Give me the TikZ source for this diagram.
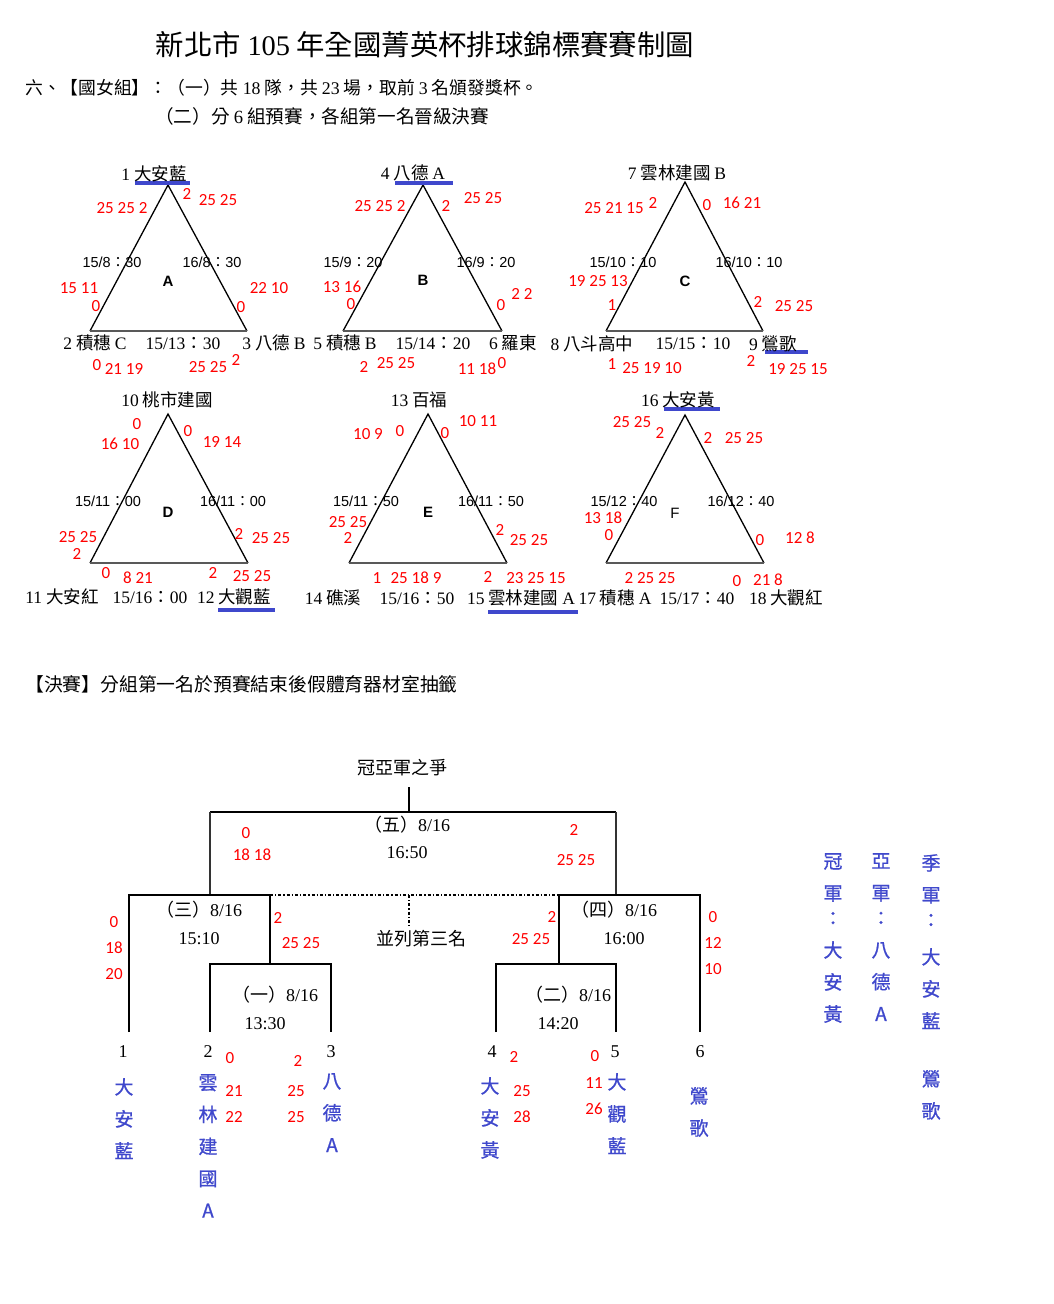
\documentclass[tikz,border=0pt]{standalone}
\usepackage{fontspec}
\setmainfont{Noto Sans CJK TC}
\newfontfamily\latfont{Liberation Serif}
\newfontfamily\arialfont{Liberation Sans}
\newfontfamily\calfont{Carlito}
\newfontfamily\winfont{Noto Sans CJK TC}[FakeBold=0.8]
\newcommand{\lat}[1]{{\latfont #1}}
\newcommand{\fcol}{{\normalfont ：}}
\definecolor{teamblue}{RGB}{63,72,204}
\tikzset{
  team/.style={inner sep=0pt, font=\fontsize{17.5}{17.5}\selectfont},
  slot/.style={inner sep=0pt, font=\arialfont\fontsize{14.5}{14.5}\selectfont},
  grp/.style={inner sep=0pt, font=\arialfont\bfseries\fontsize{15}{15}\selectfont},
  score/.style={inner sep=0pt, text=red, font=\calfont\fontsize{17}{17}\selectfont},
  win/.style={inner sep=0pt, text=teamblue, align=center, font=\winfont\fontsize{19}{32}\selectfont},
  match/.style={inner sep=0pt, font=\fontsize{18}{18}\selectfont},
  side/.style={line width=1.3pt},
  base/.style={line width=2.2pt, draw=black!65},
  champ/.style={line width=3.2pt, draw=teamblue},
  bracket/.style={line width=2.4pt},
  third/.style={line width=1.3pt, dash dot},
}

\begin{document}
\begin{tikzpicture}[x=1pt,y=-1pt]
  \fill[white] (0,0) rectangle (1054,1304);
  \useasboundingbox (0,0) rectangle (1054,1304);

  \node[inner sep=0pt, font=\fontsize{28.4}{28.4}\selectfont] (title) at (425,45)
    {新北市 \lat{105} 年全國菁英杯排球錦標賽賽制圖};
  \node[inner sep=0pt, anchor=west, font=\fontsize{17.8}{17.8}\selectfont] (rule1) at (25,88)
    {六、【國女組】：（一）共 \lat{18} 隊，共 \lat{23} 場，取前 \lat{3} 名頒發獎杯。};
  \node[inner sep=0pt, anchor=west, font=\fontsize{18.6}{18.6}\selectfont] (rule2) at (155,116)
    {（二）分 \lat{6} 組預賽，各組第一名晉級決賽};

  % group A
  \coordinate (A1) at (168,185);
  \coordinate (A2) at (90,331);
  \coordinate (A3) at (247,331);
  \draw[side] (A2) -- (A1) -- (A3);
  \draw[base] (A2) -- (A3);
  \draw[champ] (135,183) -- (190,183);
  \node[team] (tA1) at (154,174) {\lat{1} 大安藍};
  \node[team] (tA2) at (95,343) {\lat{2} 積穗 \lat{C}};
  \node[team] (tA3) at (274,343) {\lat{3} 八德 \lat{B}};
  \node[slot] (mA1) at (112,262) {15/8\fcol30};
  \node[slot] (mA2) at (212,262) {16/8\fcol30};
  \node[team] (mA3) at (183,344) {\lat{15/13}：\lat{30}};
  \node[grp] (gA) at (168,281) {A};
  \node[score] (sA1) at (122,208) {25 25 2};
  \node[score] (sA2) at (187,194) {2};
  \node[score] (sA3) at (218,200) {25 25};
  \node[score] (sA4) at (79,288) {15 11};
  \node[score] (sA5) at (96,306) {0};
  \node[score] (sA6) at (269,288) {22 10};
  \node[score] (sA7) at (241,307) {0};
  \node[score] (sA8) at (97,365) {0};
  \node[score] (sA9) at (124,369) {21 19};
  \node[score] (sA10) at (208,367) {25 25};
  \node[score] (sA11) at (236,360) {2};

  % group B
  \coordinate (B1) at (423,185);
  \coordinate (B2) at (343,331);
  \coordinate (B3) at (502,331);
  \draw[side] (B2) -- (B1) -- (B3);
  \draw[base] (B2) -- (B3);
  \draw[champ] (395,183) -- (453,183);
  \node[team] (tB1) at (413,173) {\lat{4} 八德 \lat{A}};
  \node[team] (tB2) at (345,343) {\lat{5} 積穗 \lat{B}};
  \node[team] (tB3) at (513,343) {\lat{6} 羅東};
  \node[slot] (mB1) at (353,262) {15/9\fcol20};
  \node[slot] (mB2) at (486,262) {16/9\fcol20};
  \node[team] (mB3) at (433,344) {\lat{15/14}：\lat{20}};
  \node[grp] (gB) at (423,280) {B};
  \node[score] (sB1) at (380,206) {25 25 2};
  \node[score] (sB2) at (446,206) {2};
  \node[score] (sB3) at (483,198) {25 25};
  \node[score] (sB4) at (342,287) {13 16};
  \node[score] (sB5) at (351,304) {0};
  \node[score] (sB6) at (501,305) {0};
  \node[score] (sB7) at (522,294) {2 2};
  \node[score] (sB8) at (364,367) {2};
  \node[score] (sB9) at (396,363) {25 25};
  \node[score] (sB10) at (477,369) {11 18};
  \node[score] (sB11) at (502,363) {0};

  % group C
  \coordinate (C1) at (685,182);
  \coordinate (C2) at (606,331);
  \coordinate (C3) at (763,331);
  \draw[side] (C2) -- (C1) -- (C3);
  \draw[base] (C2) -- (C3);
  \draw[champ] (765,352) -- (808,352);
  \node[team] (tC1) at (677,173) {\lat{7} 雲林建國 \lat{B}};
  \node[team] (tC2) at (592,344) {\lat{8} 八斗高中};
  \node[team] (tC3) at (773,344) {\lat{9} 鶯歌};
  \node[slot] (mC1) at (623,262) {15/10\fcol10};
  \node[slot] (mC2) at (749,262) {16/10\fcol10};
  \node[team] (mC3) at (693,344) {\lat{15/15}：\lat{10}};
  \node[grp] (gC) at (685,281) {C};
  \node[score] (sC1) at (614,208) {25 21 15};
  \node[score] (sC2) at (653,203) {2};
  \node[score] (sC3) at (707,205) {0};
  \node[score] (sC4) at (742,203) {16 21};
  \node[score] (sC5) at (598,281) {19 25 13};
  \node[score] (sC6) at (612,305) {1};
  \node[score] (sC7) at (758,302) {2};
  \node[score] (sC8) at (794,306) {25 25};
  \node[score] (sC9) at (612,364) {1};
  \node[score] (sC10) at (652,368) {25 19 10};
  \node[score] (sC11) at (751,361) {2};
  \node[score] (sC12) at (798,369) {19 25 15};

  % group D
  \coordinate (D1) at (168,414);
  \coordinate (D2) at (90,563);
  \coordinate (D3) at (248,563);
  \draw[side] (D2) -- (D1) -- (D3);
  \draw[base] (D2) -- (D3);
  \draw[champ] (218,610) -- (275,610);
  \node[team] (tD1) at (167,400) {\lat{10} 桃市建國};
  \node[team] (tD2) at (62,597) {\lat{11} 大安紅};
  \node[team] (tD3) at (234,597) {\lat{12} 大觀藍};
  \node[slot] (mD1) at (108,501) {15/11\fcol00};
  \node[slot] (mD2) at (233,501) {16/11\fcol00};
  \node[team] (mD3) at (150,598) {\lat{15/16}：\lat{00}};
  \node[grp] (gD) at (168,512) {D};
  \node[score] (sD1) at (137,424) {0};
  \node[score] (sD2) at (120,444) {16 10};
  \node[score] (sD3) at (188,431) {0};
  \node[score] (sD4) at (222,442) {19 14};
  \node[score] (sD5) at (78,537) {25 25};
  \node[score] (sD6) at (77,554) {2};
  \node[score] (sD7) at (239,534) {2};
  \node[score] (sD8) at (271,538) {25 25};
  \node[score] (sD9) at (106,573) {0};
  \node[score] (sD10) at (138,578) {8 21};
  \node[score] (sD11) at (213,573) {2};
  \node[score] (sD12) at (252,576) {25 25};

  % group E
  \coordinate (E1) at (428,414);
  \coordinate (E2) at (349,563);
  \coordinate (E3) at (507,563);
  \draw[side] (E2) -- (E1) -- (E3);
  \draw[base] (E2) -- (E3);
  \draw[champ] (488,612) -- (578,612);
  \node[team] (tE1) at (419,400) {\lat{13} 百福};
  \node[team] (tE2) at (333,598) {\lat{14} 礁溪};
  \node[team] (tE3) at (521,598) {\lat{15} 雲林建國 \lat{A}};
  \node[slot] (mE1) at (366,501) {15/11\fcol50};
  \node[slot] (mE2) at (491,501) {16/11\fcol50};
  \node[team] (mE3) at (417,599) {\lat{15/16}：\lat{50}};
  \node[grp] (gE) at (428,512) {E};
  \node[score] (sE1) at (368,434) {10 9};
  \node[score] (sE2) at (400,431) {0};
  \node[score] (sE3) at (445,433) {0};
  \node[score] (sE4) at (478,421) {10 11};
  \node[score] (sE5) at (348,522) {25 25};
  \node[score] (sE6) at (348,538) {2};
  \node[score] (sE7) at (500,530) {2};
  \node[score] (sE8) at (529,540) {25 25};
  \node[score] (sE9) at (377,578) {1};
  \node[score] (sE10) at (416,578) {25 18 9};
  \node[score] (sE11) at (488,577) {2};
  \node[score] (sE12) at (536,578) {23 25 15};

  % group F
  \coordinate (F1) at (685,415);
  \coordinate (F2) at (606,563);
  \coordinate (F3) at (764,563);
  \draw[side] (F2) -- (F1) -- (F3);
  \draw[base] (F2) -- (F3);
  \draw[champ] (664,409) -- (720,409);
  \node[team] (tF1) at (678,400) {\lat{16} 大安黃};
  \node[team] (tF2) at (615,598) {\lat{17} 積穗 \lat{A}};
  \node[team] (tF3) at (786,598) {\lat{18} 大觀紅};
  \node[slot] (mF1) at (624,501) {15/12\fcol40};
  \node[slot] (mF2) at (741,501) {16/12\fcol40};
  \node[team] (mF3) at (697,599) {\lat{15/17}：\lat{40}};
  \node[grp, font=\arialfont\fontsize{15}{15}\selectfont] (gF) at (675,513) {F};
  \node[score] (sF1) at (632,422) {25 25};
  \node[score] (sF2) at (660,433) {2};
  \node[score] (sF3) at (708,438) {2};
  \node[score] (sF4) at (744,438) {25 25};
  \node[score] (sF5) at (603,518) {13 18};
  \node[score] (sF6) at (609,535) {0};
  \node[score] (sF7) at (760,540) {0};
  \node[score] (sF8) at (800,538) {12 8};
  \node[score] (sF9) at (650,578) {2 25 25};
  \node[score] (sF10) at (737,581) {0};
  \node[score] (sF11) at (768,580) {21 8};

  % finals
  \node[inner sep=0pt, anchor=west, font=\fontsize{18.8}{18.8}\selectfont] (rule3) at (25,684)
    {【決賽】分組第一名於預賽結束後假體育器材室抽籤};
  \node[match] (fin) at (402,768) {冠亞軍之爭};
  \coordinate (f0) at (409,787);
  \coordinate (f1) at (409,812);
  \coordinate (fl) at (210,812);
  \coordinate (fr) at (616,812);
  \coordinate (s3l) at (129,895);
  \coordinate (s3m) at (210,895);
  \coordinate (s3r) at (270,895);
  \coordinate (s4l) at (559,895);
  \coordinate (s4m) at (616,895);
  \coordinate (s4r) at (700,895);
  \coordinate (q3) at (409,895);
  \coordinate (q3e) at (409,925);
  \coordinate (s1l) at (210,964);
  \coordinate (s1m) at (270,964);
  \coordinate (s1r) at (331,964);
  \coordinate (s2l) at (496,964);
  \coordinate (s2m) at (559,964);
  \coordinate (s2r) at (616,964);
  \draw[line width=1.8pt] (f0) -- (f1);
  \draw[bracket] (fl) -- (fr);
  \draw[line width=1.3pt, black!80] (fl) -- (s3m) (fr) -- (s4m);
  \draw[bracket] (129,1032) -- (s3l) -- (s3r) -- (s1m);
  \draw[bracket] (700,1032) -- (s4r) -- (s4l) -- (s2m);
  \draw[bracket] (210,1032) -- (s1l) -- (s1r) -- (331,1032);
  \draw[bracket] (496,1032) -- (s2l) -- (s2r) -- (616,1032);
  \draw[third] (s3r) -- (s4l) (q3) -- (q3e);

  \node[match] (m5a) at (407,825) {（五）\lat{8/16}};
  \node[match] (m5b) at (407,853) {\lat{16:50}};
  \node[match] (m3a) at (199,910) {（三）\lat{8/16}};
  \node[match] (m3b) at (199,939) {\lat{15:10}};
  \node[match] (m4a) at (614,910) {（四）\lat{8/16}};
  \node[match] (m4b) at (624,939) {\lat{16:00}};
  \node[match] (m1a) at (275,995) {（一）\lat{8/16}};
  \node[match] (m1b) at (265,1024) {\lat{13:30}};
  \node[match] (m2a) at (568,995) {（二）\lat{8/16}};
  \node[match] (m2b) at (558,1024) {\lat{14:20}};
  \node[match] (third) at (421,939) {並列第三名};

  \node[score] (r5a) at (246,833) {0};
  \node[score] (r5b) at (252,855) {18 18};
  \node[score] (r5c) at (574,830) {2};
  \node[score] (r5d) at (576,860) {25 25};
  \node[score, align=center, font=\calfont\fontsize{17}{26}\selectfont] (r3a) at (114,948) {0\\18\\20};
  \node[score] (r3b) at (278,918) {2};
  \node[score] (r3c) at (301,943) {25 25};
  \node[score] (r4a) at (552,917) {2};
  \node[score] (r4b) at (531,939) {25 25};
  \node[score, align=center, font=\calfont\fontsize{17}{26}\selectfont] (r4c) at (713,943) {0\\12\\10};

  \foreach \n/\x in {1/123, 2/208, 3/331, 4/492, 5/615, 6/700}
    \node[match, font=\latfont\fontsize{18}{18}\selectfont] (seed\n) at (\x,1052) {\n};

  \node[win, anchor=north] (w1) at (124,1078) {大\\安\\藍};
  \node[win, anchor=north] (w2) at (208,1074) {雲\\林\\建\\國\\A};
  \node[win, anchor=north] (w3) at (332,1073) {八\\德\\A};
  \node[win, anchor=north] (w4) at (490,1077) {大\\安\\黃};
  \node[win, anchor=north] (w5) at (617,1073) {大\\觀\\藍};
  \node[win, anchor=north] (w6) at (699,1087) {鶯\\歌};

  \node[score] (r1a) at (230,1058) {0};
  \node[score] (r1b) at (234,1091) {21};
  \node[score] (r1c) at (234,1117) {22};
  \node[score] (r1d) at (298,1061) {2};
  \node[score] (r1e) at (296,1091) {25};
  \node[score] (r1f) at (296,1117) {25};
  \node[score] (r2a) at (514,1057) {2};
  \node[score] (r2b) at (522,1091) {25};
  \node[score] (r2c) at (522,1117) {28};
  \node[score] (r2d) at (595,1056) {0};
  \node[score] (r2e) at (594,1083) {11};
  \node[score] (r2f) at (594,1109) {26};

  \node[win, anchor=north] (gold) at (833,853) {冠\\軍\\[-7pt]：\\大\\安\\黃};
  \node[win, anchor=north] (silver) at (881,853) {亞\\軍\\[-7pt]：\\八\\德\\A};
  \node[win, anchor=north] (bronze) at (931,854) {季\\軍\\[-7pt]：\\[5pt]大\\安\\藍\\[26pt]鶯\\歌};
\end{tikzpicture}
\end{document}
